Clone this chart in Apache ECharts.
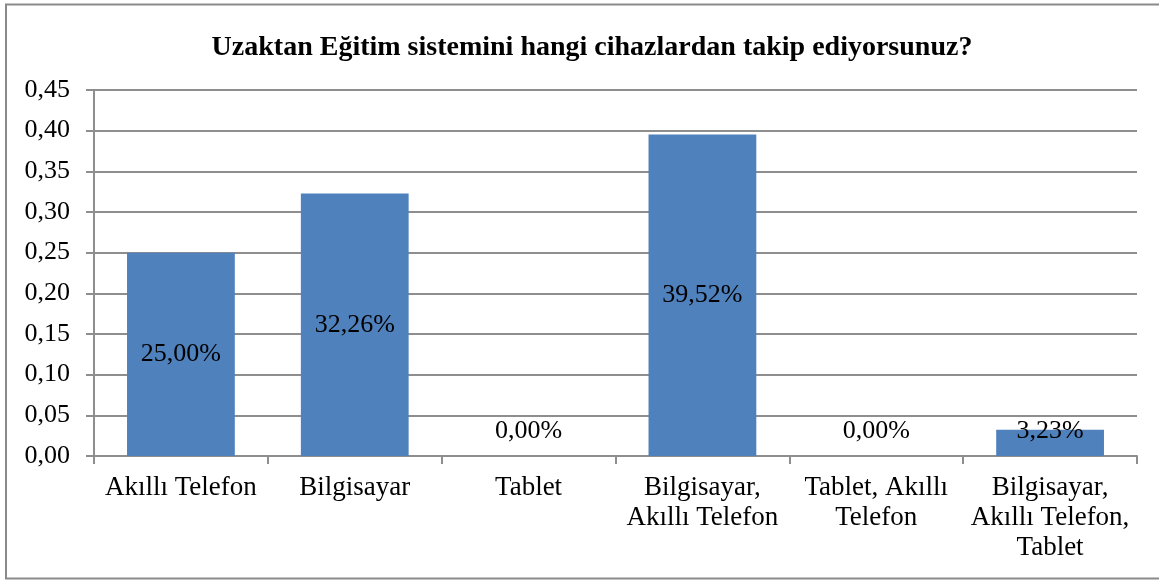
<!DOCTYPE html>
<html>
<head>
<meta charset="utf-8">
<script src="https://cdn.jsdelivr.net/npm/echarts@6/dist/echarts.min.js"></script>
<style>
  html, body { margin: 0; padding: 0; background: #fff; }
  #chart { width: 1159px; height: 581px; }
</style>
</head>
<body>
<div id="chart"></div>
<script>
// data
var categories = ['Akıllı Telefon', 'Bilgisayar', 'Tablet', 'Bilgisayar, Akıllı Telefon', 'Tablet, Akıllı Telefon', 'Bilgisayar, Akıllı Telefon, Tablet'];
// the way Excel wrapped them
var categoryLabels = ['Akıllı Telefon', 'Bilgisayar', 'Tablet', 'Bilgisayar,\nAkıllı Telefon', 'Tablet, Akıllı\nTelefon', 'Bilgisayar,\nAkıllı Telefon,\nTablet'];
var values = [0.25, 0.3226, 0, 0.3952, 0, 0.0323];
var yTicks = [0, 0.05, 0.10, 0.15, 0.20, 0.25, 0.30, 0.35, 0.40, 0.45];

var font = '"Liberation Serif", "Times New Roman", serif';
var gridColor = '#8e8e8e';

var chart = echarts.init(document.getElementById('chart'));

var barData = values.map(function (v) {
  var item = { value: v };
  if (v < 0.05) {
    // small bars: Excel pushes the label up so it fits
    item.label = { position: 'insideBottom', distance: 12 };
  }
  return item;
});

var option = {
  backgroundColor: '#fff',
  animation: false,
  title: {
    text: 'Uzaktan Eğitim sistemini hangi cihazlardan takip ediyorsunuz?',
    left: 587,
    textAlign: 'center',
    top: 29,
    textStyle: { fontFamily: font, fontSize: 28, fontWeight: 'bold', color: '#000' }
  },
  graphic: [{
    type: 'rect',
    shape: { x: 6, y: 4.5, width: 1200, height: 574 },
    style: { fill: 'none', stroke: '#8a8a8a', lineWidth: 2 },
    silent: true
  }],
  grid: { left: 94, right: 22, top: 90, bottom: 125 },
  xAxis: {
    type: 'category',
    data: categories,
    axisLine: { lineStyle: { color: gridColor, width: 2 } },
    axisTick: { show: true, length: 8, alignWithLabel: false, lineStyle: { color: gridColor, width: 2 } },
    axisLabel: {
      fontFamily: font, fontSize: 27, color: '#000', margin: 17,
      lineHeight: 30, interval: 0,
      formatter: function (v, i) { return categoryLabels[i]; }
    }
  },
  yAxis: {
    type: 'value',
    min: 0, max: 0.45, interval: 0.05,
    axisLine: { show: true, lineStyle: { color: gridColor, width: 2 } },
    axisTick: { show: true, length: 8, lineStyle: { color: gridColor, width: 2 } },
    splitLine: { lineStyle: { color: gridColor, width: 2 } },
    axisLabel: {
      fontFamily: font, fontSize: 26, color: '#000', margin: 24,
      formatter: function (v) {
        var t = yTicks.reduce(function (a, b) { return Math.abs(b - v) < Math.abs(a - v) ? b : a; });
        return t.toFixed(2).replace('.', ',');
      }
    }
  },
  series: [{
    type: 'bar',
    data: barData,
    barCategoryGap: '38%',
    itemStyle: { color: '#4f81bd' },
    label: {
      show: true,
      position: 'inside',
      fontFamily: font, fontSize: 26, color: '#000',
      formatter: function (p) {
        return (p.value * 100).toFixed(2).replace('.', ',') + '%';
      }
    }
  }]
};

chart.setOption(option);
</script>
</body>
</html>
